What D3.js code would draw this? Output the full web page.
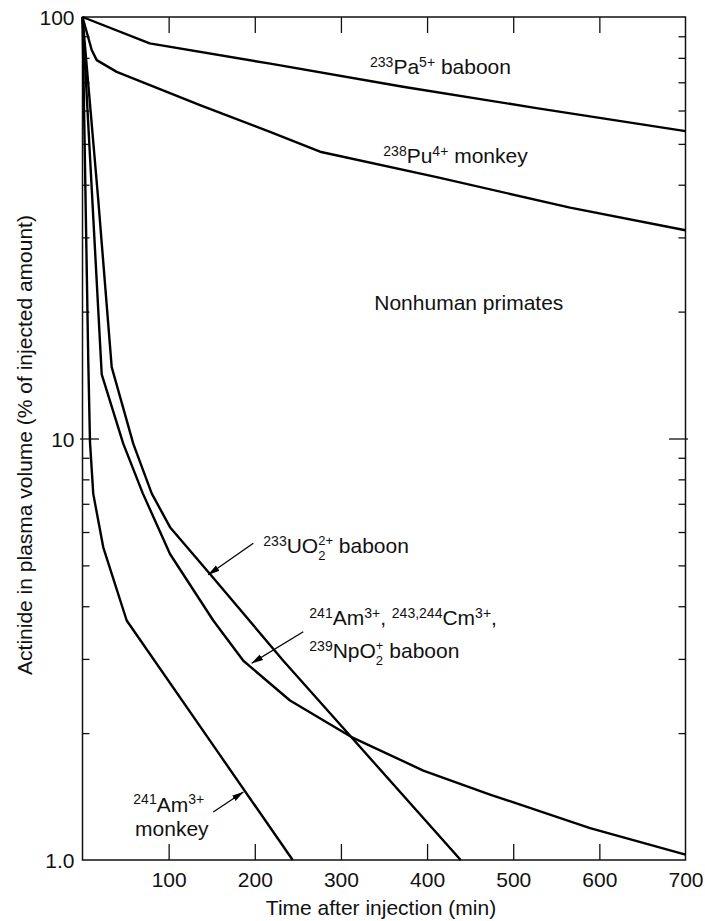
<!DOCTYPE html>
<html><head><meta charset="utf-8">
<script src="https://cdn.jsdelivr.net/npm/d3@7"></script>
<style>
html,body{margin:0;padding:0;background:#fff;}
svg{display:block;}
text{font-family:"Liberation Sans", Arial, Helvetica, sans-serif; fill:#111;}
</style></head><body>
<svg id="chart" width="705" height="921"></svg>
<script>
// ---------- data ----------
const xTickValues = [100, 200, 300, 400, 500, 600, 700];
const yMajorValues = [1, 10, 100];
const yTickLabels = ["1.0", "10", "100"];
const yMinorValues = [2, 3, 4, 5, 6, 7, 8, 9, 20, 30, 40, 50, 60, 70, 80, 90];

const paBaboonTime = [0, 78, 218, 372, 527, 700];
const paBaboonPct  = [100, 86.6, 77.5, 68.3, 60.8, 53.6];

const puMonkeyTime = [0, 10.7, 16.5, 39.7, 136.4, 217.7, 275.7, 411.2, 566, 700];
const puMonkeyPct  = [100, 83.5, 79.0, 74.1, 61.8, 53.4, 47.9, 41.7, 35.3, 31.2];

const uo2BaboonTime = [0, 18.3, 33.9, 59, 80.3, 101.6, 148, 233.1, 311.7, 439];
const uo2BaboonPct  = [100, 36.8, 14.77, 9.71, 7.41, 6.16, 4.77, 2.97, 1.96, 1.0];

const amBaboonTime = [0, 22.3, 47.4, 70, 101.6, 151.8, 186.7, 240.9, 311.7, 395.6, 473.1, 589.2, 700];
const amBaboonPct  = [100, 14.2, 9.71, 7.41, 5.32, 3.70, 2.97, 2.39, 1.96, 1.63, 1.43, 1.19, 1.03];

const amMonkeyTime = [0, 6.7, 8.7, 12.5, 24.1, 51.3, 155.8, 244];
const amMonkeyPct  = [100, 15.3, 9.8, 7.39, 5.52, 3.70, 1.82, 1.0];

const xTitle = "Time after injection (min)";
const yTitle = "Actinide in plasma volume (% of injected amount)";

// ---------- layout ----------
const svg = d3.select("#chart");
svg.append("rect").attr("width", 705).attr("height", 921).attr("fill", "#fff");
const x = d3.scaleLinear().domain([0, 700]).range([82.5, 685.5]);
const y = d3.scaleLog().domain([1, 100]).range([860, 17]);
const FS = 21, SUP = 14, STACK = 13;
const ink = "#111";

function styleAxis(g) {
  g.select(".domain").remove();
  g.selectAll(".tick line").attr("stroke", ink).attr("stroke-width", 1.3);
  g.selectAll(".tick text").attr("fill", ink).style("font-size", FS + "px")
    .style("font-family", '"Liberation Sans", Arial, Helvetica, sans-serif');
}
const innerX = xTickValues.filter(d => d < 700);

// bottom ticks + labels
svg.append("g").attr("transform", `translate(0,${y(1)})`)
  .call(d3.axisBottom(x).tickValues(innerX).tickSize(-16).tickFormat("")).call(styleAxis);
svg.append("g").attr("transform", `translate(0,${y(1)})`)
  .call(d3.axisBottom(x).tickValues(xTickValues).tickSize(0).tickPadding(12).tickFormat(d3.format("d"))).call(styleAxis);
// top ticks
svg.append("g").attr("transform", `translate(0,${y(100)})`)
  .call(d3.axisTop(x).tickValues(innerX).tickSize(-16).tickFormat("")).call(styleAxis);
// left
svg.append("g").attr("transform", `translate(${x(0)},0)`)
  .call(d3.axisLeft(y).tickValues(yMinorValues).tickSize(-7).tickFormat("")).call(styleAxis);
svg.append("g").attr("transform", `translate(${x(0)},0)`)
  .call(d3.axisLeft(y).tickValues([10]).tickSize(-16.5).tickFormat("")).call(styleAxis);
svg.append("g").attr("transform", `translate(${x(0)},0)`)
  .call(d3.axisLeft(y).tickValues([10]).tickSize(2.5).tickFormat("")).call(styleAxis);
const yl = svg.append("g").attr("transform", `translate(${x(0)},0)`)
  .call(d3.axisLeft(y).tickValues(yMajorValues).tickSize(0).tickPadding(8)
    .tickFormat(d => yTickLabels[yMajorValues.indexOf(d)])).call(styleAxis);
yl.selectAll(".tick text").attr("dy", "0.37em");
// right
svg.append("g").attr("transform", `translate(${x(700)},0)`)
  .call(d3.axisRight(y).tickValues(yMinorValues).tickSize(-7).tickFormat("")).call(styleAxis);
svg.append("g").attr("transform", `translate(${x(700)},0)`)
  .call(d3.axisRight(y).tickValues([10]).tickSize(-16.5).tickFormat("")).call(styleAxis);
svg.append("g").attr("transform", `translate(${x(700)},0)`)
  .call(d3.axisRight(y).tickValues([10]).tickSize(2.5).tickFormat("")).call(styleAxis);

// frame
svg.append("rect").attr("x", x(0)).attr("y", y(100))
  .attr("width", x(700) - x(0)).attr("height", y(1) - y(100))
  .attr("fill", "none").attr("stroke", ink).attr("stroke-width", 1.5);

// axis titles
svg.append("text").attr("x", (x(0) + x(700)) / 2 - 3).attr("y", 915)
  .attr("text-anchor", "middle").style("font-size", FS + "px").text(xTitle);
svg.append("text").attr("transform", `translate(32,445) rotate(-90)`)
  .attr("text-anchor", "middle").style("font-size", FS + "px").text(yTitle);

// curves
const series = [
  [paBaboonTime, paBaboonPct],
  [puMonkeyTime, puMonkeyPct],
  [uo2BaboonTime, uo2BaboonPct],
  [amBaboonTime, amBaboonPct],
  [amMonkeyTime, amMonkeyPct]
];
const line = d3.line().x(d => x(d[0])).y(d => y(d[1])).curve(d3.curveLinear);
series.forEach(([t, v]) => {
  svg.append("path").datum(t.map((d, i) => [d, v[i]]))
    .attr("d", line).attr("fill", "none").attr("stroke", "#000")
    .attr("stroke-width", 2.4).attr("stroke-linejoin", "round");
});

// rich text helper (superscripts / subscripts)
function rich(px, py, segs) {
  const g = svg.append("g").attr("transform", `translate(${px},${py})`);
  let cx = 0;
  segs.forEach(s => {
    if (s.t !== undefined) {
      const e = g.append("text").attr("x", cx).attr("y", 0)
        .attr("xml:space", "preserve").style("white-space", "pre")
        .style("font-size", FS + "px").text(s.t);
      cx += e.node().getComputedTextLength();
    } else if (s.sub !== undefined) {
      let w = 0;
      const e1 = g.append("text").attr("x", cx).attr("y", -8.3)
        .style("font-size", STACK + "px").text(s.sup);
      w = Math.max(w, e1.node().getComputedTextLength());
      const e2 = g.append("text").attr("x", cx).attr("y", 6.6)
        .style("font-size", STACK + "px").text(s.sub);
      w = Math.max(w, e2.node().getComputedTextLength());
      cx += w;
    } else {
      const e = g.append("text").attr("x", cx).attr("y", -7.5)
        .style("font-size", SUP + "px").text(s.sup);
      cx += e.node().getComputedTextLength();
    }
  });
  return g;
}

rich(x(333.8), y(73.2), [{sup: "233"}, {t: "Pa"}, {sup: "5+"}, {t: " baboon"}]);
rich(x(349.2), y(44.97), [{sup: "238"}, {t: "Pu"}, {sup: "4+"}, {t: " monkey"}]);
rich(x(338.7), y(20.2), [{t: "Nonhuman primates"}]);
rich(x(209.9), y(5.34), [{sup: "233"}, {t: "UO"}, {sub: "2", sup: "2+"}, {t: " baboon"}]);
rich(x(263.3), y(3.61), [{sup: "241"}, {t: "Am"}, {sup: "3+"}, {t: ", "}, {sup: "243,244"}, {t: "Cm"}, {sup: "3+"}, {t: ","}]);
rich(x(263.3), y(3.01), [{sup: "239"}, {t: "NpO"}, {sub: "2", sup: "+"}, {t: " baboon"}]);
rich(x(59), y(1.30), [{sup: "241"}, {t: "Am"}, {sup: "3+"}]);
rich(x(61), y(1.14), [{t: "monkey"}]);

// arrows
svg.append("defs").append("marker").attr("id", "ah")
  .attr("viewBox", "0 0 12 8").attr("refX", 11.5).attr("refY", 4)
  .attr("markerWidth", 12).attr("markerHeight", 8).attr("markerUnits", "userSpaceOnUse")
  .attr("orient", "auto")
  .append("path").attr("d", "M0,0.8 L12,4 L0,7.2 Z").attr("fill", "#000");
const arrows = [
  [[198.3, 5.64], [146, 4.75]],
  [[256.3, 3.48], [196.4, 2.93]],
  [[151.8, 1.30], [186.7, 1.45]]
];
arrows.forEach(([a, b]) => {
  svg.append("line").attr("x1", x(a[0])).attr("y1", y(a[1]))
    .attr("x2", x(b[0])).attr("y2", y(b[1]))
    .attr("stroke", "#000").attr("stroke-width", 1.3).attr("marker-end", "url(#ah)");
});
</script>
</body></html>
